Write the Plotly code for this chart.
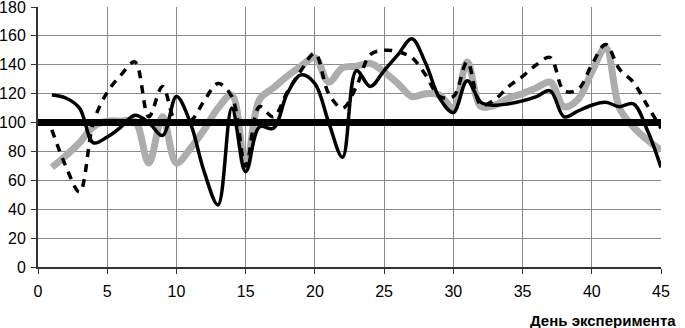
import plotly.graph_objects as go

# ---- data ----
days = list(range(1, 46))

solid_series = [119, 117, 110, 86, 90, 97, 105, 100, 91, 118,
                100, 66, 43, 110, 66, 97, 96, 120, 133, 127,
                100, 76, 136, 125, 136, 147, 158, 141, 117, 107,
                129, 114, 112, 113, 115, 118, 122, 104, 108, 112,
                114, 111, 113, 95, 69]

gray_series = [69, 77, 86, 97, 101, 101, 101, 72, 104, 72,
               82, 95, 110, 119, 68, 116, 124, 132, 139, 145,
               128, 138, 139, 141, 135, 127, 118, 120, 119, 110,
               142, 111, 112, 117, 120, 124, 128, 111, 116, 135,
               152, 110, 97, 88, 81]

dashed_series = [95, 70, 52, 100, 121, 133, 142, 104, 125, 100,
                 101, 115, 127, 118, 70, 111, 104, 121, 136, 148,
                 120, 110, 125, 147, 150, 149, 145, 133, 118, 118,
                 142, 112, 116, 125, 132, 140, 145, 122, 123, 140,
                 154, 137, 128, 112, 96]

reference_level = 100
x_range = [0, 45]
y_range = [0, 180]
x_ticks = [0, 5, 10, 15, 20, 25, 30, 35, 40, 45]
y_ticks = [0, 20, 40, 60, 80, 100, 120, 140, 160, 180]
x_title = "День эксперимента"

FONT = "Liberation Sans, Arial, sans-serif"

fig = go.Figure()

fig.add_trace(go.Scatter(
    x=days, y=gray_series, mode="lines",
    line=dict(color="#adadad", width=7, shape="spline", smoothing=1),
    showlegend=False, hoverinfo="skip"))

fig.add_trace(go.Scatter(
    x=x_range, y=[reference_level] * len(x_range), mode="lines",
    line=dict(color="black", width=7),
    showlegend=False, hoverinfo="skip"))

fig.add_trace(go.Scatter(
    x=days, y=dashed_series, mode="lines",
    line=dict(color="black", width=3.5, dash="8px,7px", shape="spline", smoothing=1),
    showlegend=False, hoverinfo="skip"))

fig.add_trace(go.Scatter(
    x=days, y=solid_series, mode="lines",
    line=dict(color="black", width=3.5, shape="spline", smoothing=1),
    showlegend=False, hoverinfo="skip"))

fig.update_layout(
    width=685, height=328,
    margin=dict(l=38, r=24, t=7, b=61, autoexpand=False),
    paper_bgcolor="white", plot_bgcolor="white",
    font=dict(family=FONT, size=16, color="black"),
    xaxis=dict(range=x_range, tickvals=x_ticks, showgrid=True,
               gridcolor="#8a8a8a", gridwidth=1, zeroline=False,
               showline=True, linecolor="#333", linewidth=2,
               ticks="outside", ticklen=5, tickcolor="#333",
               tickfont=dict(size=16), automargin=False,
               ticklabeloverflow="allow", ticklabelstandoff=4),
    yaxis=dict(range=y_range, tickvals=y_ticks, showgrid=True,
               gridcolor="#8a8a8a", gridwidth=1, zeroline=False,
               showline=True, linecolor="#333", linewidth=2,
               ticks="outside", ticklen=5, tickcolor="#333",
               tickfont=dict(size=16), automargin=False,
               ticklabeloverflow="allow", ticklabelstandoff=2),
    annotations=[dict(text="<b>" + x_title + "</b>", xref="paper", yref="paper",
                      x=1.0, y=0, xanchor="center", yanchor="middle",
                      xshift=-58, yshift=-53, showarrow=False,
                      font=dict(size=15, family=FONT, color="black"))],
)

fig.write_html("out.html",
               config={"displayModeBar": False},
               post_script="document.body.style.margin='0';document.body.style.padding='0';")
